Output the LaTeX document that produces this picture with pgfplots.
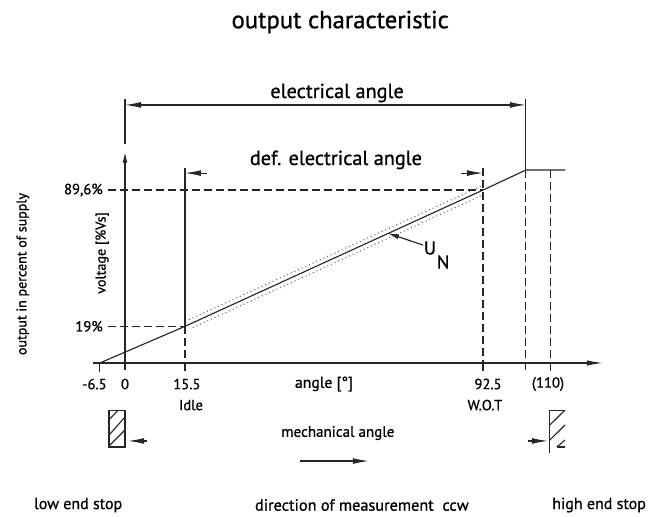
\documentclass[border=0pt]{standalone}
\usepackage{pgfplots}
\pgfplotsset{compat=1.18}
\usetikzlibrary{arrows.meta}
\usepackage{fontspec}
\setmainfont{PT Sans}[FakeBold=0.9]
\begin{document}
\begin{tikzpicture}[
  ln/.style={line width=0.85pt, black!85},
  dsh/.style={line width=0.85pt, black!85, dash pattern=on 6pt off 3pt},
  tol/.style={line width=0.75pt, black!60, dash pattern=on 0.8pt off 2.2pt},
  ar/.style={-{Latex[length=12pt,width=4.4pt]}},
  sz/.style={font=\fontsize{11}{13}\selectfont},
]
\begin{axis}[
  scale only axis, width=492.75pt, height=384pt,
  xmin=-32.30, xmax=137.47, ymin=-77.20, ymax=188.08,
  hide axis, clip=false,
]
\path (axis cs:-32.30,-77.20) rectangle (axis cs:137.47,188.08);
% characteristic
\addplot[ln] coordinates {(-6.5,0) (15.5,19) (92.5,89.6) (103.6,100) (113.7,100)};
% tolerance band
\addplot[tol] coordinates {(16.5,22.4) (92,91.6)};
\addplot[tol] coordinates {(17.5,18.3) (92.5,87.1)};
% axes
\addplot[ln, -{Latex[length=8pt,width=3.6pt]}] coordinates {(0,-3.6) (0,109.3)};
\addplot[ln, -{Latex[length=12pt,width=4pt]}] coordinates {(-8.3,0) (123.5,0)};
% ticks
\addplot[ln] coordinates {(-6.5,0) (-6.5,-4.5)};
\addplot[ln] coordinates {(15.5,101) (15.5,19)};
\addplot[dsh] coordinates {(15.5,19) (15.5,0)};
\addplot[ln] coordinates {(15.5,0) (15.5,-4)};
\addplot[dsh] coordinates {(92.5,101) (92.5,0)};
\addplot[ln] coordinates {(92.5,0) (92.5,-4)};
\addplot[dsh] coordinates {(103.6,100) (103.6,-5.2)};
\addplot[dsh] coordinates {(110,100) (110,0)};
\addplot[ln] coordinates {(110,0) (110,-4)};
% level lines
\addplot[dsh] coordinates {(-4.4,89.6) (92.5,89.6)};
\addplot[dsh] coordinates {(-4.4,19) (15.5,19)};
% electrical angle bracket
\addplot[ln] coordinates {(0,136.8) (0,113.5)};
\addplot[ln] coordinates {(103.6,136.8) (103.6,100)};
\addplot[ln, {Latex[length=12pt,width=4.4pt]}-{Latex[length=12pt,width=4.4pt]}] coordinates {(0,133.7) (103.6,133.7)};
% def. electrical angle arrows
\addplot[ln, ar] coordinates {(21.2,98.4) (15.5,98.4)};
\addplot[ln, ar] coordinates {(86.8,98.4) (92.5,98.4)};
% U_N leader
\addplot[ln, -{Latex[length=9pt,width=3.6pt]}] coordinates {(77.0,61.1) (67.7,67.4)};
% low end stop
\addplot[ln] coordinates {(-4.13,-24.4) (0,-24.4) (0,-43.5) (-4.13,-43.5) (-4.13,-24.4)};
\addplot[ln] coordinates {(-3.88,-29.0) (-1.81,-24.4)};
\addplot[ln] coordinates {(-3.88,-36.8) (0,-28.0)};
\addplot[ln] coordinates {(-3.88,-42.5) (0,-34.7)};
\addplot[ln, ar] coordinates {(5.6,-40.4) (0.8,-40.4)};
% high end stop
\addplot[ln] coordinates {(113.7,-24.4) (109.8,-24.4) (109.8,-46.6)};
\addplot[ln] coordinates {(109.8,-32.1) (113.7,-24.4)};
\addplot[ln] coordinates {(109.8,-39.9) (113.7,-32.1)};
\addplot[ln] coordinates {(111.6,-43.5) (113.7,-39.9)};
\addplot[ln] coordinates {(111.6,-43.5) (113.7,-43.5)};
\addplot[ln, ar] coordinates {(104.2,-40.4) (109.3,-40.4)};
% direction arrow
\addplot[ln, ar] coordinates {(45.2,-50.8) (63.0,-50.8)};
% texts
\node[font=\fontsize{18.5}{20}\selectfont] at (axis cs:55.6,176.7) {output characteristic};
\node[font=\fontsize{15.2}{17}\selectfont] at (axis cs:54.8,139.9) {electrical angle};
\node[font=\fontsize{15.2}{17}\selectfont] at (axis cs:54.5,105.2) {def. electrical angle};
\node[sz, anchor=east, inner sep=0pt] at (axis cs:-5.7,89.6) {89,6\%};
\node[sz, anchor=east, inner sep=0pt] at (axis cs:-5.7,19) {19\%};
\node[font=\fontsize{10.6}{12}\selectfont, rotate=90] at (axis cs:-5.9,57.0) {voltage [\%Vs]};
\node[font=\fontsize{10.5}{12}\selectfont, rotate=90] at (axis cs:-26.4,46.1) {output in percent of supply};
\node[sz] at (axis cs:-7.9,-10.9) {-6.5};
\node[sz] at (axis cs:0,-10.9) {0};
\node[sz] at (axis cs:16.0,-10.9) {15.5};
\node[font=\fontsize{11.8}{13}\selectfont] at (axis cs:51.4,-10.9) {angle [°]};
\node[sz] at (axis cs:93.8,-10.9) {92.5};
\node[sz] at (axis cs:109.3,-10.9) {(110)};
\node[sz] at (axis cs:17.05,-21.8) {Idle};
\node[sz] at (axis cs:93.0,-21.8) {W.O.T};
\node[font=\fontsize{11.3}{13}\selectfont] at (axis cs:55.0,-36.3) {mechanical angle};
\node[font=\fontsize{12}{14}\selectfont] at (axis cs:-12.1,-73.6) {low end stop};
\node[font=\fontsize{12.2}{14}\selectfont] at (axis cs:61.2,-73.6) {direction of measurement\ \ ccw};
\node[font=\fontsize{12}{14}\selectfont] at (axis cs:122.5,-73.6) {high end stop};
\node[font=\fontsize{14}{16}\selectfont] at (axis cs:78.8,59.6) {U};
\node[font=\fontsize{14}{16}\selectfont] at (axis cs:82.2,52.3) {N};
\end{axis}
\end{tikzpicture}
\end{document}
